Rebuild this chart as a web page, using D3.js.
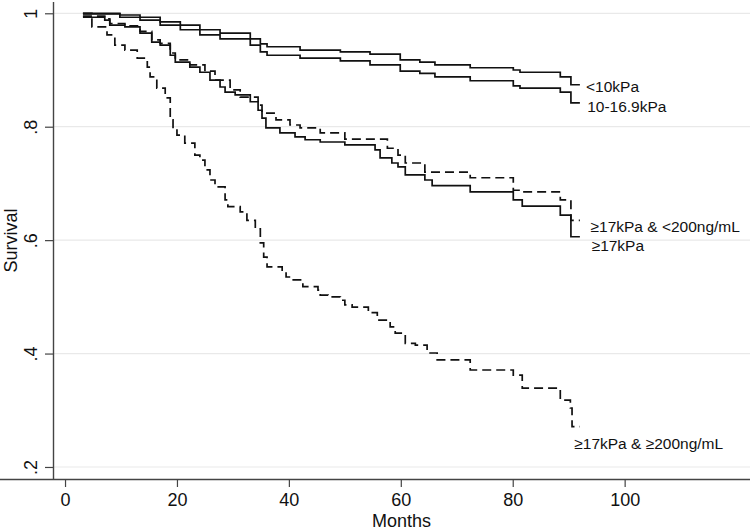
<!DOCTYPE html>
<html>
<head>
<meta charset="utf-8">
<script src="https://cdn.jsdelivr.net/npm/d3@7"></script>
<style>
  body { margin: 0; background: #fff; }
  svg { display: block; font-family: "Liberation Sans", Arial, sans-serif; }
</style>
</head>
<body>
<div class="canvas"></div>
<script>
// Kaplan-Meier steps: [month, survival]
const lowStiffness = [[3.2,1.0],[9.8,0.997],[13.4,0.993],[17.0,0.985],[20.6,0.979],[24.1,0.971],[27.7,0.965],[33.1,0.955],[34.9,0.946],[36.1,0.941],[42.0,0.935],[49.2,0.932],[54.5,0.928],[59.9,0.918],[63.4,0.914],[66.1,0.909],[72.4,0.904],[80.1,0.900],[81.3,0.896],[88.5,0.888],[90.4,0.874],[92.0,0.874]];
const midStiffness = [[3.2,0.999],[9.8,0.993],[13.4,0.988],[17.0,0.979],[20.6,0.971],[24.1,0.962],[27.7,0.955],[33.1,0.944],[34.9,0.932],[36.1,0.926],[42.0,0.921],[49.2,0.916],[54.5,0.909],[59.9,0.898],[63.4,0.894],[66.1,0.888],[72.4,0.881],[80.1,0.872],[81.3,0.868],[88.5,0.861],[90.4,0.842],[92.0,0.842]];
const highStiffness = [[3.2,0.993],[7.1,0.988],[8.0,0.979],[10.7,0.976],[13.4,0.965],[15.5,0.949],[17.0,0.944],[18.8,0.926],[19.7,0.914],[22.3,0.905],[24.1,0.896],[25.9,0.882],[27.7,0.870],[28.6,0.861],[30.4,0.856],[33.1,0.844],[34.5,0.829],[35.2,0.815],[35.9,0.798],[38.4,0.789],[41.1,0.782],[42.9,0.777],[45.6,0.773],[50.0,0.768],[55.4,0.759],[56.3,0.745],[58.4,0.736],[59.5,0.729],[60.8,0.715],[64.3,0.706],[65.6,0.696],[72.4,0.685],[80.1,0.671],[81.7,0.660],[88.5,0.644],[90.4,0.606],[92.0,0.606]];
const highLowAfp = [[3.2,0.995],[7.1,0.990],[8.0,0.982],[10.7,0.978],[13.4,0.968],[15.5,0.953],[17.0,0.947],[18.8,0.930],[19.7,0.918],[22.3,0.909],[25.0,0.898],[26.8,0.882],[29.5,0.865],[31.3,0.852],[34.5,0.838],[35.2,0.824],[37.7,0.812],[40.2,0.803],[42.0,0.798],[45.6,0.789],[50.0,0.778],[57.6,0.762],[59.5,0.750],[60.8,0.736],[64.3,0.720],[72.4,0.710],[80.1,0.688],[81.7,0.685],[88.5,0.671],[90.4,0.635],[92.0,0.635]];
const highHighAfp = [[3.2,1.0],[4.8,0.976],[7.5,0.962],[8.9,0.944],[10.7,0.935],[12.9,0.921],[14.7,0.905],[15.2,0.888],[16.4,0.868],[17.9,0.851],[18.8,0.812],[19.3,0.797],[20.0,0.785],[21.4,0.771],[23.2,0.750],[24.1,0.741],[25.0,0.724],[25.9,0.706],[26.8,0.694],[28.6,0.671],[29.1,0.659],[31.3,0.650],[32.5,0.635],[34.0,0.620],[34.9,0.595],[35.5,0.570],[36.1,0.553],[38.8,0.542],[39.5,0.535],[40.6,0.530],[42.5,0.518],[45.2,0.512],[45.6,0.503],[47.0,0.500],[49.2,0.494],[50.0,0.486],[51.3,0.482],[54.2,0.472],[55.8,0.459],[58.1,0.447],[59.0,0.436],[60.8,0.418],[62.6,0.415],[64.7,0.401],[66.5,0.389],[72.4,0.371],[80.1,0.362],[81.7,0.339],[88.5,0.318],[90.3,0.304],[90.6,0.271],[92.0,0.271]];

const seriesNames = ['<10kPa', '10-16.9kPa', '≥17kPa & <200ng/mL', '≥17kPa', '≥17kPa & ≥200ng/mL'];
const seriesData = [lowStiffness, midStiffness, highLowAfp, highStiffness, highHighAfp];
const seriesDashed = [false, false, true, false, true];
// label anchor (month, survival) for each curve's text
const labelMonths = [93.1, 93.3, 93.9, 94.1, 91.0];
const labelSurv = [0.862, 0.826, 0.615, 0.580, 0.232];

const xTicks = [0, 20, 40, 60, 80, 100];
const yTicks = [0.2, 0.4, 0.6, 0.8, 1];
const yTickLabels = ['.2', '.4', '.6', '.8', '1'];

const width = 750, height = 531;
const svg = d3.select('.canvas').append('svg')
  .attr('width', width)
  .attr('height', height);

svg.append('rect').attr('width', width).attr('height', height).attr('fill', '#fff');

const x = d3.scaleLinear().domain([-2.15, 122.4]).range([53, 750]);
const y = d3.scaleLinear().domain([0.1788, 1.0199]).range([479, 2]);

// gridlines
svg.append('g')
  .selectAll('line')
  .data(yTicks)
  .enter().append('line')
  .attr('x1', 53).attr('x2', 750)
  .attr('y1', d => y(d)).attr('y2', d => y(d))
  .attr('stroke', '#e9e9e9')
  .attr('stroke-width', 1.2);

// curves
const line = d3.line()
  .x(d => x(d[0]))
  .y(d => y(d[1]))
  .curve(d3.curveStepAfter);

svg.append('g')
  .selectAll('path')
  .data(seriesData)
  .enter().append('path')
  .attr('d', line)
  .attr('fill', 'none')
  .attr('stroke', '#111')
  .attr('stroke-width', 1.7)
  .attr('stroke-dasharray', (d, i) => seriesDashed[i] ? '9,5' : null);

// axes
const xAxis = d3.axisBottom(x).tickValues(xTicks).tickSize(8).tickPadding(6);
const yAxis = d3.axisLeft(y).tickValues(yTicks).tickSize(8)
  .tickFormat((d, i) => yTickLabels[i]);

const xAxisGroup = svg.append('g').attr('transform', `translate(0, 479)`).call(xAxis);
const yAxisGroup = svg.append('g').attr('transform', `translate(53, 0)`).call(yAxis);

[xAxisGroup, yAxisGroup].forEach(g => {
  g.select('.domain').attr('stroke', '#444').attr('stroke-width', 1.4);
  g.selectAll('.tick line').attr('stroke', '#444').attr('stroke-width', 1.2);
  g.selectAll('text').attr('font-size', '18px').attr('fill', '#111')
    .attr('font-family', '"Liberation Sans", Arial, sans-serif');
});
xAxisGroup.select('.domain').attr('d', 'M0,0.5H750');
yAxisGroup.select('.domain').attr('d', `M0.5,2V479`);

yAxisGroup.selectAll('.tick text')
  .attr('x', null).attr('dy', null)
  .attr('text-anchor', 'middle')
  .attr('transform', 'translate(-16,0) rotate(-90)');

// axis titles
svg.append('text')
  .attr('x', 401.5).attr('y', 527.2)
  .attr('text-anchor', 'middle')
  .attr('font-size', '18px').attr('fill', '#111')
  .text('Months');

svg.append('text')
  .attr('transform', `translate(17, ${(2 + 479) / 2}) rotate(-90)`)
  .attr('text-anchor', 'middle')
  .attr('font-size', '18px').attr('fill', '#111')
  .text('Survival');

// curve labels
svg.append('g')
  .selectAll('text')
  .data(seriesNames)
  .enter().append('text')
  .attr('x', (d, i) => x(labelMonths[i]))
  .attr('y', (d, i) => y(labelSurv[i]))
  .attr('font-size', '15.5px')
  .attr('fill', '#111')
  .text(d => d);
</script>
</body>
</html>
